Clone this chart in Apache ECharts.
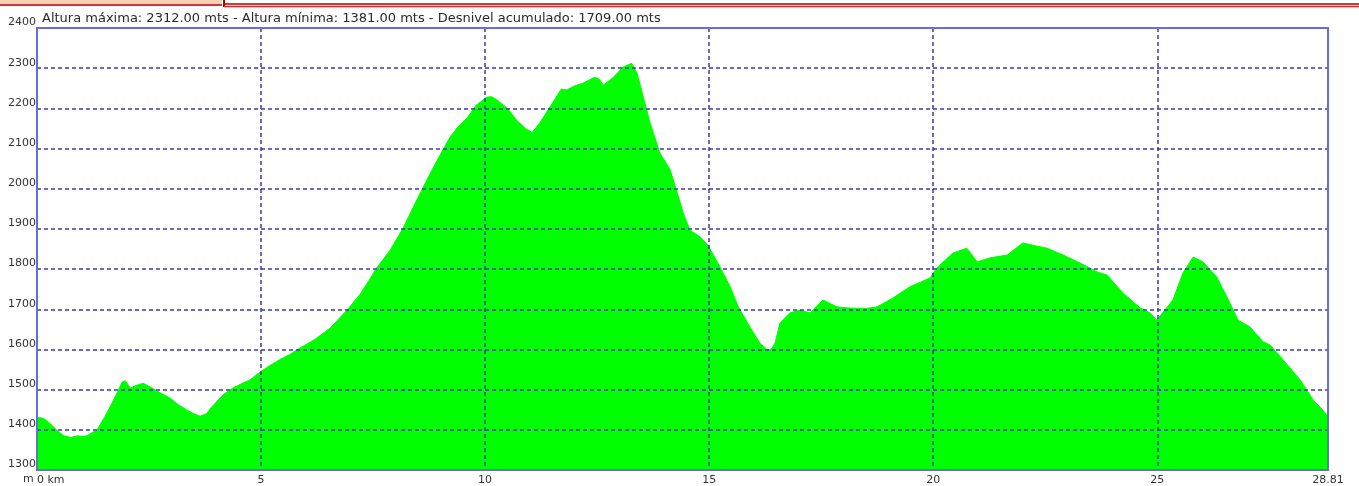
<!DOCTYPE html>
<html>
<head>
<meta charset="utf-8">
<style>html,body{margin:0;padding:0;background:#fff;}#chart{width:1359px;height:486px;}</style>
<script src="https://cdn.jsdelivr.net/npm/echarts@6/dist/echarts.min.js"></script>
</head>
<body>
<div id="chart"></div>
<script>
const distanceKm = [0.00,0.15,0.30,0.45,0.60,0.75,0.90,1.05,1.14,1.34,1.50,1.63,1.80,1.90,1.97,2.08,2.20,2.37,2.52,2.75,2.97,3.15,3.35,3.50,3.64,3.78,3.90,4.15,4.37,4.55,4.75,4.98,5.20,5.42,5.65,5.80,6.20,6.54,6.92,7.20,7.40,7.58,7.88,8.17,8.40,8.70,8.95,9.22,9.40,9.60,9.80,10.04,10.15,10.26,10.49,10.70,10.90,11.05,11.22,11.45,11.70,11.82,12.00,12.19,12.45,12.55,12.64,12.85,13.08,13.27,13.39,13.53,13.68,13.90,14.13,14.30,14.42,14.57,14.80,14.97,15.24,15.47,15.65,15.91,16.13,16.31,16.40,16.47,16.58,16.80,17.03,17.25,17.54,17.85,18.14,18.50,18.75,19.10,19.48,19.93,20.08,20.44,20.75,20.98,21.27,21.65,22.00,22.32,22.54,22.90,23.28,23.66,23.88,24.24,24.62,24.84,24.99,25.13,25.35,25.57,25.80,26.02,26.33,26.62,26.80,27.07,27.36,27.52,27.81,28.19,28.48,28.70,28.81];
const elevationM = [1432,1428,1415,1398,1385,1381,1385,1383,1387,1400,1430,1457,1495,1519,1522,1504,1510,1516,1507,1492,1479,1463,1449,1440,1434,1440,1457,1487,1504,1514,1524,1544,1560,1575,1588,1599,1625,1653,1698,1736,1770,1803,1847,1902,1955,2022,2075,2129,2155,2176,2208,2228,2229,2221,2201,2171,2150,2140,2164,2204,2248,2246,2256,2263,2278,2272,2258,2276,2303,2312,2288,2228,2164,2089,2047,1985,1940,1897,1880,1860,1806,1756,1706,1656,1616,1598,1602,1616,1666,1691,1698,1691,1723,1706,1703,1702,1706,1728,1756,1778,1803,1840,1852,1818,1828,1835,1865,1857,1852,1835,1815,1793,1785,1740,1703,1691,1673,1693,1723,1790,1830,1818,1780,1716,1673,1656,1619,1611,1574,1524,1474,1449,1432];
const titleText = 'Altura máxima: 2312.00 mts - Altura mínima: 1381.00 mts - Desnivel acumulado: 1709.00 mts';
const totalKm = 28.81;
const yUnit = 'm';

const chart = echarts.init(document.getElementById('chart'));
const fontFam = '"DejaVu Sans", Verdana, sans-serif';
const gridColor = '#3b3ba8';

chart.setOption({
  animation: false,
  backgroundColor: '#ffffff',
  title: {
    text: titleText,
    left: 37, top: 7,
    textStyle: { fontSize: 13, fontWeight: 'normal', color: '#2a2a2a', fontFamily: fontFam }
  },
  graphic: [
    { type: 'rect', shape: { x: 0, y: 0, width: 222, height: 4 }, style: { fill: '#f7d2b0' } },
    { type: 'line', shape: { x1: 0, y1: 5, x2: 222, y2: 5 }, style: { stroke: '#d8343c', lineWidth: 2 } },
    { type: 'line', shape: { x1: 224, y1: 0, x2: 224, y2: 7 }, style: { stroke: '#b00000', lineWidth: 2 } },
    { type: 'line', shape: { x1: 224, y1: 4, x2: 1359, y2: 4 }, style: { stroke: '#a80000', lineWidth: 1.5 } },
    { type: 'line', shape: { x1: 224, y1: 6.5, x2: 1359, y2: 6.5 }, style: { stroke: '#e02828', lineWidth: 1.5 } },
    { type: 'text', left: 23, top: 474, style: { text: yUnit, fontSize: 11, fill: '#333', fontFamily: fontFam } }
  ],
  grid: {
    left: 37, right: 31, top: 28, bottom: 16,
    show: true, borderColor: '#6b6be0', borderWidth: 2, backgroundColor: 'transparent', z: 5
  },
  xAxis: {
    type: 'value', min: 0, max: totalKm, interval: 5, z: 3,
    axisLine: { show: false }, axisTick: { show: false },
    splitLine: { show: true, lineStyle: { color: gridColor, width: 1.5, type: [4, 3] } },
    axisLabel: {
      margin: 5, fontSize: 11, color: '#333', fontFamily: fontFam,
      alignMinLabel: 'left', showMaxLabel: true,
      formatter: function (v) {
        if (v === 0) return '0 km';
        if (Math.abs(v - totalKm) < 1e-6) return totalKm.toFixed(2);
        return String(v);
      }
    }
  },
  yAxis: {
    type: 'value', min: 1300, max: 2400, interval: 100, z: 3,
    axisLine: { show: false }, axisTick: { show: false },
    splitLine: { show: true, lineStyle: { color: gridColor, width: 1.5, type: [4, 3] } },
    axisLabel: {
      margin: 1, fontSize: 11, color: '#333', fontFamily: fontFam, verticalAlign: 'bottom',
      formatter: function (v) { return String(v); }
    }
  },
  series: [{
    type: 'line',
    data: distanceKm.map((d, i) => [d, elevationM[i]]),
    showSymbol: false,
    lineStyle: { color: '#00ff00', width: 1 },
    areaStyle: { color: '#00ff00', opacity: 1 },
    z: 2
  }]
});
</script>
</body>
</html>
